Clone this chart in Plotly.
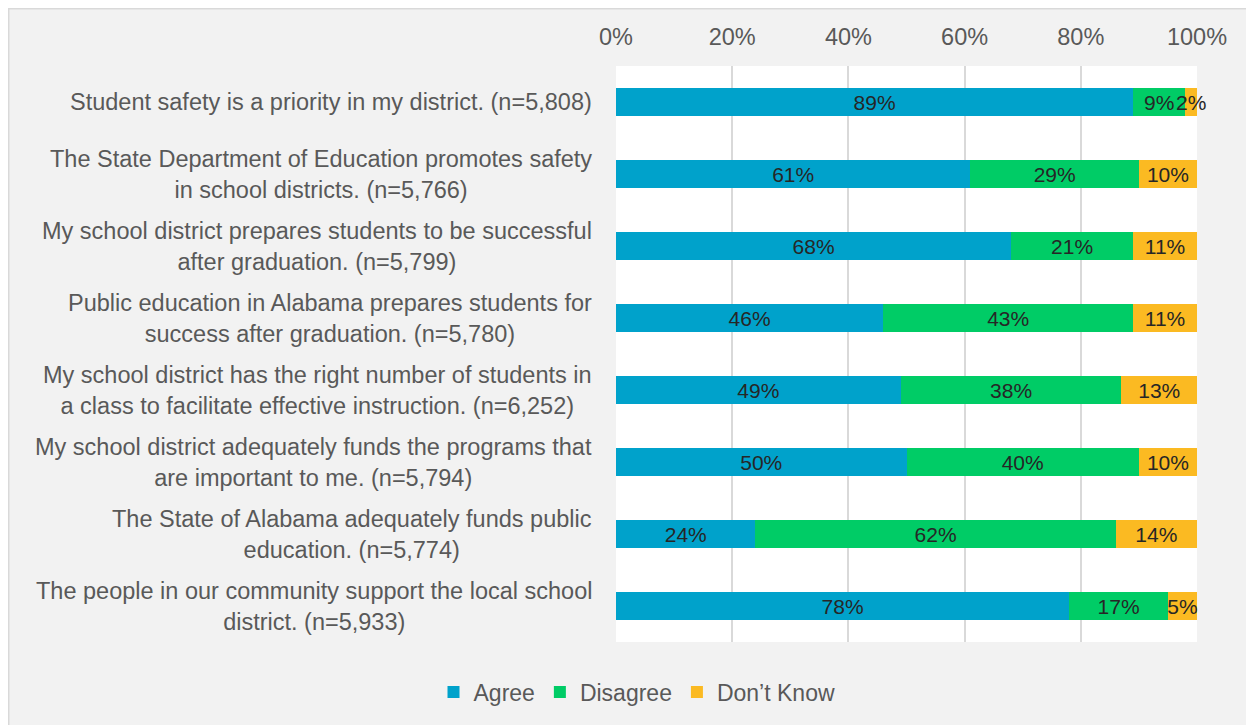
import plotly.graph_objects as go

categories = [
    "Student safety is a priority in my district. (n=5,808)",
    "The State Department of Education promotes safety<br>in school districts. (n=5,766)",
    "My school district prepares students to be successful<br>after graduation. (n=5,799)",
    "Public education in Alabama prepares students for<br>success after graduation. (n=5,780)",
    "My school district has the right number of students in<br>a class to facilitate effective instruction. (n=6,252)",
    "My school district adequately funds the programs that<br>are important to me. (n=5,794)",
    "The State of Alabama adequately funds public<br>education. (n=5,774)",
    "The people in our community support the local school<br>district. (n=5,933)",
]
agree = [89, 61, 68, 46, 49, 50, 24, 78]
disagree = [9, 29, 21, 43, 38, 40, 62, 17]
dont_know = [2, 10, 11, 11, 13, 10, 14, 5]
series = [("Agree", agree, "#00A2CB"), ("Disagree", disagree, "#00CC66"), ("Don\u2019t Know", dont_know, "#FBBA22")]
ticks = [0, 20, 40, 60, 80, 100]

FONT = "Liberation Sans, Arial"
W, H = 1254, 725
L, T = 608, 58
R = W - 1189
B = H - 634
pw, ph = W - L - R, H - T - B

fig = go.Figure()
for name, vals, color in series:
    fig.add_trace(go.Bar(
        y=categories, x=vals, name=name, orientation="h",
        marker=dict(color=color, line=dict(width=0)),
        text=[f"{v}%" for v in vals], textposition="inside",
        insidetextanchor="middle", textangle=0, constraintext="none",
        cliponaxis=False,
        textfont=dict(family=FONT, size=21, color="#262626"),
        hoverinfo="skip",
    ))

for c in categories:
    fig.add_annotation(x=0, y=c, xref="paper", yref="y", text=c, showarrow=False,
                       xanchor="right", yanchor="middle", align="center", xshift=-22,
                       font=dict(family=FONT, size=23.5, color="#595959"))

# outer chart border (left/top visible)
fig.add_shape(type="rect", xref="paper", yref="paper",
              x0=(0.75 - L) / pw, x1=(W + 10 - L) / pw,
              y0=(T + ph - (H + 10)) / ph, y1=(T + ph - 0.75) / ph,
              line=dict(color="#D9D9D9", width=1.5), fillcolor="rgba(0,0,0,0)", layer="below")

fig.update_layout(
    width=W, height=H, barmode="stack", bargap=0.6,
    margin=dict(l=L, r=R, t=T, b=B, pad=0),
    paper_bgcolor="#F2F2F2", plot_bgcolor="#FFFFFF",
    font=dict(family=FONT, size=23, color="#595959"),
    uniformtext=dict(minsize=21, mode="show"),
    xaxis=dict(side="top", range=[0, 100], tickvals=ticks, ticktext=[f"{t}%" for t in ticks],
               showgrid=True, gridcolor="#D9D9D9", gridwidth=1.5, zeroline=False,
               showline=False, ticks="", ticklabelstandoff=15,
               tickfont=dict(family=FONT, size=23.5, color="#595959")),
    yaxis=dict(categoryorder="array", categoryarray=categories, autorange="reversed",
               showticklabels=False, showgrid=False, zeroline=False, showline=False, ticks=""),
    legend=dict(orientation="h", x=(629 - L) / pw, xanchor="center",
                y=(T + ph - 684) / ph, yanchor="middle",
                font=dict(family=FONT, size=23, color="#595959"),
                bgcolor="rgba(0,0,0,0)", traceorder="normal", itemwidth=30),
    showlegend=True,
)
fig.write_html("out.html")
